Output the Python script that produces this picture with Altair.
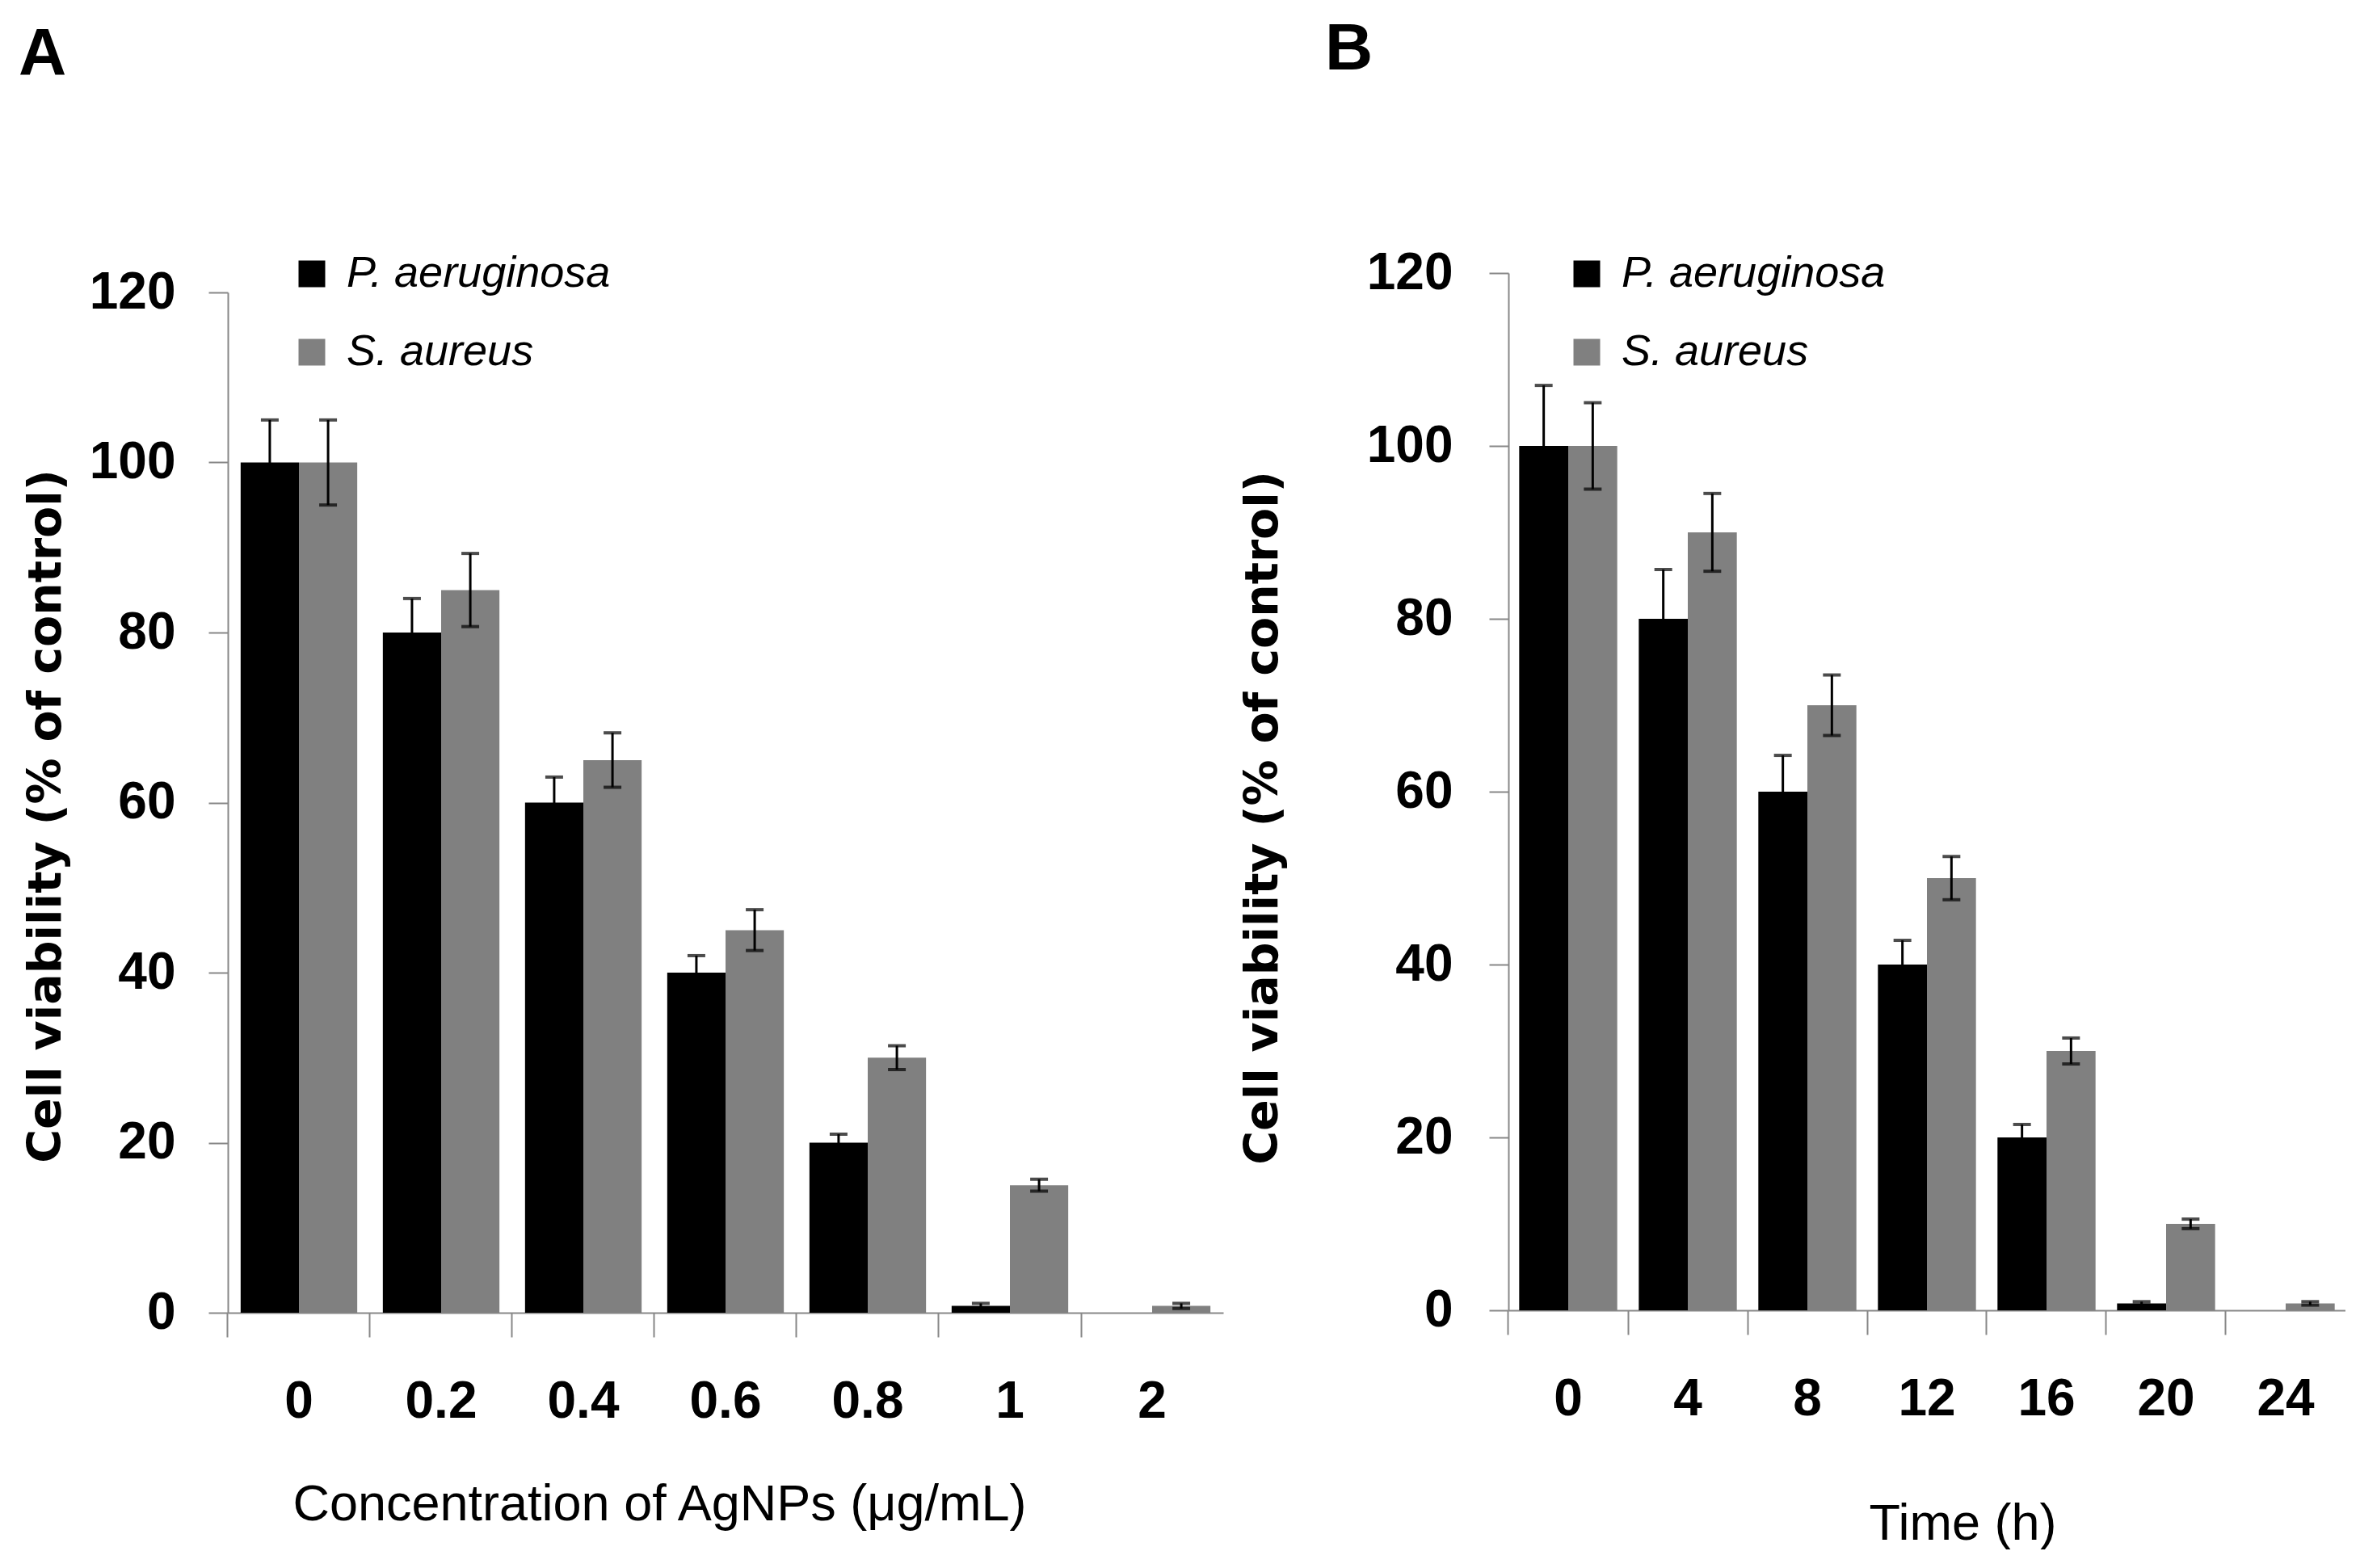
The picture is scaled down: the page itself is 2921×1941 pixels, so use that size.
import altair as alt
import pandas as pd

# ---- data ----
SPECIES = ["P. aeruginosa", "S. aureus"]
COLORS = ["#000000", "#808080"]

conc_labels = ["0", "0.2", "0.4", "0.6", "0.8", "1", "2"]
pa_conc = [100, 80, 60, 40, 20, 0.8, 0]
pa_conc_err = [5, 4, 3, 2, 1, 0.3, 0]
sa_conc = [100, 85, 65, 45, 30, 15, 0.8]
sa_conc_err = [5, 4.3, 3.2, 2.4, 1.4, 0.7, 0.3]

time_labels = ["0", "4", "8", "12", "16", "20", "24"]
pa_time = [100, 80, 60, 40, 20, 0.8, 0]
pa_time_err = [7, 5.7, 4.2, 2.8, 1.5, 0.2, 0]
sa_time = [100, 90, 70, 50, 30, 10, 0.8]
sa_time_err = [5, 4.5, 3.5, 2.5, 1.5, 0.55, 0.2]

y_ticks = [0, 20, 40, 60, 80, 100, 120]

NARROW = "Liberation Sans Narrow, Liberation Sans, Arial, sans-serif"
SANS = "Liberation Sans, Arial, sans-serif"
AXGRAY = "#878787"
PAD_INNER = 0.18


def frame(labels, pa, pa_err, sa, sa_err):
    rows = []
    for i, c in enumerate(labels):
        rows.append(dict(cat=c, species=SPECIES[0], value=pa[i], err=pa_err[i]))
        rows.append(dict(cat=c, species=SPECIES[1], value=sa[i], err=sa_err[i]))
    df = pd.DataFrame(rows)
    df["lo"] = df["value"] - df["err"]
    df["hi"] = df["value"] + df["err"]
    return df


def panel(df, labels, letter, letter_dx, width, height, yrange, xtitle,
          xtitle_x, xtitle_y, ytitle_x, ytitle_y, legend_x, label_pad_y):
    xscale = alt.Scale(domain=labels, paddingInner=PAD_INNER, paddingOuter=PAD_INNER / 2)
    xoscale = alt.Scale(domain=SPECIES, paddingInner=0, paddingOuter=0)
    yscale = alt.Scale(domain=[0, 120], range=yrange)

    x_axis = alt.Axis(
        labelAngle=0, bandPosition=-(PAD_INNER / 2) / (1 - PAD_INNER), grid=False,
        domainColor=AXGRAY, domainWidth=2, tickColor=AXGRAY, tickWidth=2, tickSize=30,
        labelFont=NARROW, labelFontSize=64, labelFontWeight="bold", labelColor="black",
        labelPadding=48,
        title=xtitle, titleFont=SANS, titleFontSize=63, titleFontWeight="normal",
        titleColor="black", titleX=xtitle_x, titleY=xtitle_y, titleBaseline="middle",
        titleAlign="center", titleLimit=3000,
    )
    y_axis = alt.Axis(
        values=y_ticks, grid=False,
        domainColor=AXGRAY, domainWidth=2, tickColor=AXGRAY, tickWidth=2, tickSize=24,
        labelFont=NARROW, labelFontSize=64, labelFontWeight="bold", labelColor="black",
        labelPadding=label_pad_y,
        title="Cell viability (% of control)", titleFont="DejaVu Sans", titleFontSize=57,
        titleFontWeight="bold", titleColor="black", titleX=ytitle_x, titleY=ytitle_y,
        titleBaseline="middle", titleAlign="center", titleLimit=3000,
    )

    bars = alt.Chart(df).mark_bar().encode(
        x=alt.X("cat:N", sort=labels, scale=xscale, axis=x_axis),
        xOffset=alt.XOffset("species:N", sort=SPECIES, scale=xoscale),
        y=alt.Y("value:Q", scale=yscale, axis=y_axis),
        color=alt.Color(
            "species:N", sort=SPECIES,
            scale=alt.Scale(domain=SPECIES, range=COLORS),
            legend=alt.Legend(
                title=None, orient="none", legendX=legend_x, legendY=-26,
                symbolType="square", symbolSize=1089, symbolStrokeWidth=0,
                labelFont=SANS, labelFontSize=54, labelFontStyle="italic",
                labelColor="black", labelLimit=1000, labelOffset=16,
                rowPadding=43, padding=0,
            ),
        ),
    )

    errdf = df[df["err"] > 0]
    xe = alt.X("cat:N", sort=labels)
    xoe = alt.XOffset("species:N", sort=SPECIES)
    rules = alt.Chart(errdf).mark_rule(color="black", strokeWidth=3).encode(
        x=xe, xOffset=xoe, y=alt.Y("lo:Q"), y2="hi:Q"
    )
    cap_hi = alt.Chart(errdf).mark_tick(
        color="black", orient="horizontal", size=22, thickness=4
    ).encode(x=xe, xOffset=xoe, y=alt.Y("hi:Q"))
    cap_lo = alt.Chart(errdf).mark_tick(
        color="black", orient="horizontal", size=22, thickness=4
    ).encode(x=xe, xOffset=xoe, y=alt.Y("lo:Q"))

    return alt.layer(bars, rules, cap_hi, cap_lo).properties(
        width=width, height=height,
        title=alt.TitleParams(
            letter, anchor="start", frame="group", font=NARROW, fontSize=82,
            fontWeight="bold", color="black", dx=letter_dx, offset=203,
        ),
    )


dfA = frame(conc_labels, pa_conc, pa_conc_err, sa_conc, sa_conc_err)
dfB = frame(time_labels, pa_time, pa_time_err, sa_time, sa_time_err)

A = panel(dfA, conc_labels, "A", -259, 1232, 1287, [1287, 24],
          "Concentration of AgNPs (\u03bcg/mL)", 534, 237, -225, 672, 77, 41)
B = panel(dfB, time_labels, "B", -227, 1036, 1284, [1284, 0],
          "Time (h)", 562, 264, -304, 674, 70, 45)

chart = alt.hconcat(A, B, spacing=353, bounds="flush").resolve_scale(
    xOffset="independent"
).resolve_legend(
    color="independent"
).configure_view(
    stroke=None
).properties(
    padding={"left": 15, "top": 12, "right": 0, "bottom": 0},
    background="white",
)

chart.save("out.html", embed_options={"renderer": "svg", "actions": False})
